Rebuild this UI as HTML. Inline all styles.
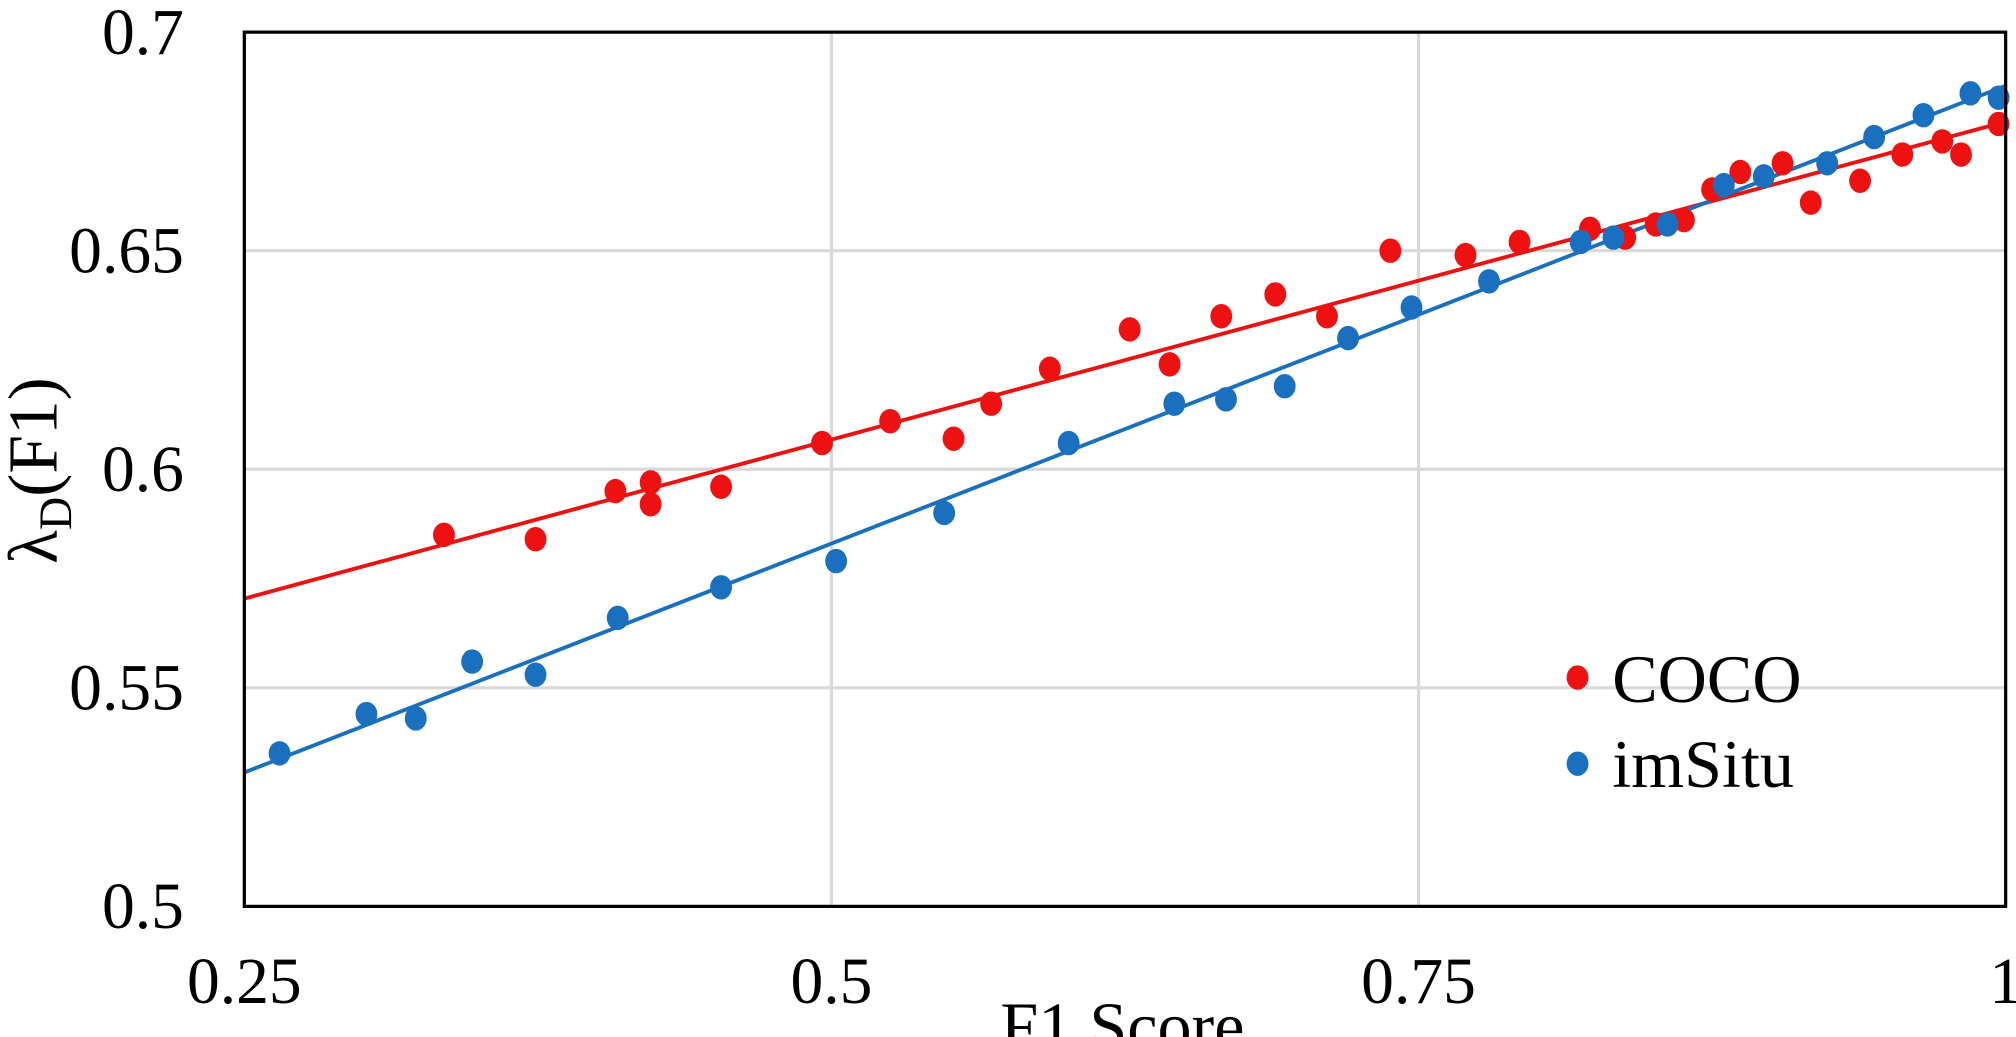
<!DOCTYPE html>
<html><head><meta charset="utf-8"><style>
html,body{margin:0;padding:0;background:#fff;overflow:hidden}
svg{display:block;font-family:"Liberation Serif",serif}
</style></head><body>
<svg id="chart" width="2016" height="1037" viewBox="0 0 1568 806.6" xmlns="http://www.w3.org/2000/svg">
<g id="grid"></g><g id="lines"></g><g id="pts"></g><g id="axes"></g>
</svg>
<script>
const cocoX=[0.335,0.374,0.408,0.423,0.423,0.453,0.496,0.525,0.552,0.568,0.593,0.627,0.644,0.666,0.689,0.711,0.738,0.770,0.793,0.823,0.838,0.851,0.863,0.875,0.887,0.905,0.917,0.938,0.956,0.973,0.981,0.997];
const cocoY=[0.585,0.584,0.595,0.597,0.592,0.596,0.606,0.611,0.607,0.615,0.623,0.632,0.624,0.635,0.640,0.635,0.650,0.649,0.652,0.655,0.653,0.656,0.657,0.664,0.668,0.670,0.661,0.666,0.672,0.675,0.672,0.679];
const situX=[0.265,0.302,0.323,0.347,0.374,0.409,0.453,0.502,0.548,0.601,0.646,0.668,0.693,0.720,0.747,0.780,0.819,0.833,0.856,0.880,0.897,0.924,0.944,0.965,0.985,0.997];
const situY=[0.535,0.544,0.543,0.556,0.553,0.566,0.573,0.579,0.590,0.606,0.615,0.616,0.619,0.630,0.637,0.643,0.652,0.653,0.656,0.665,0.667,0.670,0.676,0.681,0.686,0.685];
const xTicks=[0.25,0.5,0.75,1];
const xTickLabels=["0.25","0.5","0.75","1"];
const yTicks=[0.5,0.55,0.6,0.65,0.7];
const yTickLabels=["0.5","0.55","0.6","0.65","0.7"];
const L=190,R=1560,T=25,B=705;
const sx=v=>L+(v-0.25)/0.75*(R-L);
const sy=v=>B-(v-0.5)/0.2*(B-T);
const NS="http://www.w3.org/2000/svg";
function mk(tag,parent,attrs){const e=document.createElementNS(NS,tag);for(const k in attrs)e.setAttribute(k,attrs[k]);parent.appendChild(e);return e;}
const grid=document.getElementById('grid'),lines=document.getElementById('lines'),pts=document.getElementById('pts'),axes=document.getElementById('axes');
xTicks.forEach((v,i)=>{
 if(i>0&&i<xTicks.length-1){const g=mk('line',grid,{x1:sx(v),x2:sx(v),y1:T,y2:B,stroke:'#d9d9d9','stroke-width':2.5});
 
 }
 const t=mk('text',axes,{x:sx(v),y:780,'font-size':51,'text-anchor':'middle',fill:'#000'});t.textContent=xTickLabels[i];
 
 
});
yTicks.forEach((v,i)=>{
 if(i>0&&i<yTicks.length-1){const g=mk('line',grid,{x1:L,x2:R,y1:sy(v),y2:sy(v),stroke:'#d9d9d9','stroke-width':2.5});
 
 }
 const t=mk('text',axes,{x:143,y:sy(v)+17,'font-size':51,'text-anchor':'end',fill:'#000'});t.textContent=yTickLabels[i];
 
 
});
const frame=mk('rect',axes,{x:L,y:T,width:R-L,height:B-T,fill:'none',stroke:'#000','stroke-width':2.5});


function fit(xs,ys){const n=xs.length;let mx=0,my=0;for(let i=0;i<n;i++){mx+=xs[i];my+=ys[i];}mx/=n;my/=n;let sxy=0,sxx=0;for(let i=0;i<n;i++){sxy+=(xs[i]-mx)*(ys[i]-my);sxx+=(xs[i]-mx)**2;}const b=sxy/sxx;return [my-b*mx,b];}
function series(xs,ys,col,name){
 const [a,b]=fit(xs,ys);
 const ln=mk('line',lines,{x1:sx(0.25),y1:sy(a+b*0.25),x2:sx(1),y2:sy(a+b),stroke:col,'stroke-width':3});
 
 
 xs.forEach((x,i)=>{const c=mk('ellipse',pts,{cx:sx(x),cy:sy(ys[i]),rx:8.5,ry:9.5,fill:col});
 
 });
}
series(cocoX,cocoY,'#ee1111','coco');
series(situX,situY,'#1a6fbf','imsitu');
const lg=mk('g',axes,{});


const d1=mk('ellipse',lg,{cx:1227,cy:527,rx:8.5,ry:9.5,fill:'#ee1111'});


const t1=mk('text',lg,{x:1254,y:546,'font-size':53,fill:'#000'});t1.textContent='COCO';


const d2=mk('ellipse',lg,{cx:1227,cy:594,rx:8.5,ry:9.5,fill:'#1a6fbf'});


const t2=mk('text',lg,{x:1254,y:612,'font-size':53,fill:'#000'});t2.textContent='imSitu';


const xt=mk('text',axes,{x:873,y:816,'font-size':53,'text-anchor':'middle',fill:'#000'});xt.textContent='F1 Score';


const yt=mk('text',axes,{x:0,y:0,'font-size':54,'text-anchor':'middle',fill:'#000',transform:'translate(44,366) rotate(-90)'});
yt.innerHTML='λ<tspan font-size="36" dy="11">D</tspan><tspan dy="-11">(F1)</tspan>';


</script>
</body></html>
